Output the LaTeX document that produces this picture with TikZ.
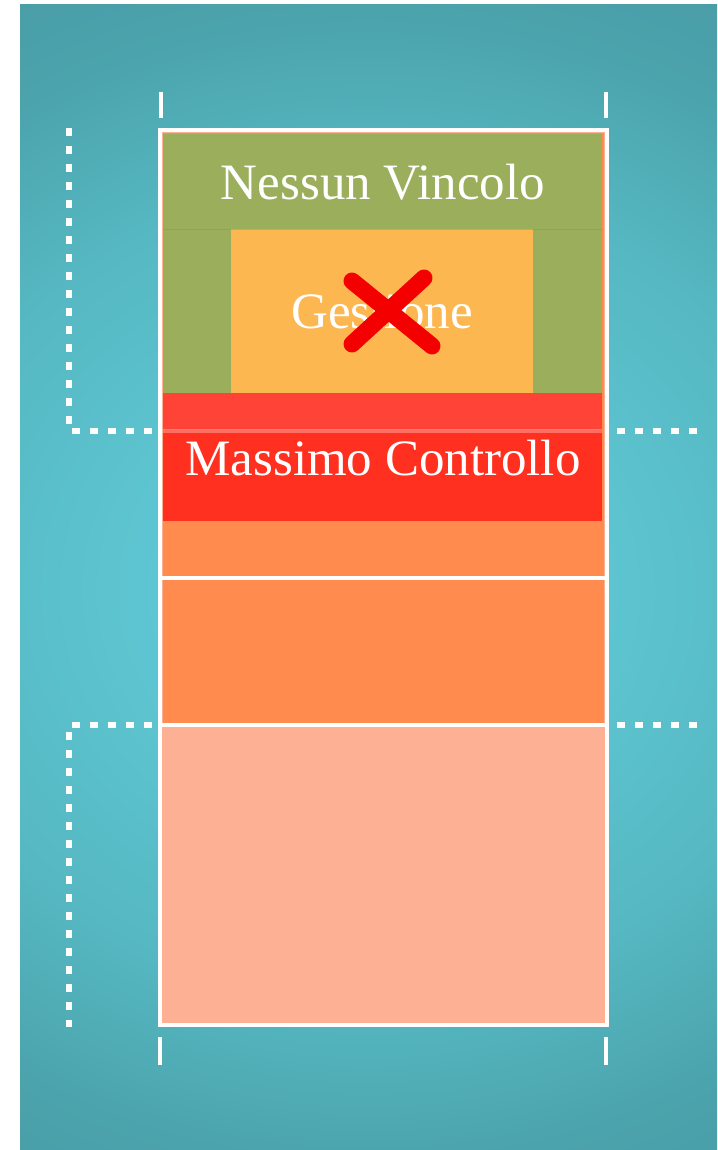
\documentclass[tikz,border=0pt]{standalone}
\usepackage{xcolor}
\usepackage{fontspec}
\setmainfont{Liberation Serif}
\usepackage{tikz}
\usetikzlibrary{calc}
\definecolor{tealdark}{HTML}{4895A0}
\definecolor{tealedge}{HTML}{4BA3AC}
\definecolor{tealmid}{HTML}{55B7C1}
\definecolor{tealsoft}{HTML}{5DC5D1}
\definecolor{teallight}{HTML}{63CDD9}
\definecolor{greenzone}{HTML}{9AAE5C}
\definecolor{gestbox}{HTML}{FDB751}
\definecolor{redzone}{HTML}{FF301F}
\definecolor{redtop}{HTML}{FF4336}
\definecolor{orangezone}{HTML}{FF8B4F}
\definecolor{salmonzone}{HTML}{FDB094}
\definecolor{crossred}{HTML}{F40000}
\pgfdeclareradialshading{courtglow}{\pgfpoint{0bp}{0bp}}{color(0bp)=(teallight); color(18bp)=(tealsoft); color(36bp)=(tealmid); color(50bp)=(tealedge); color(71bp)=(tealdark)}

\begin{document}
\begin{tikzpicture}[x=1pt,y=-1pt]
              \tikzset{>=latex}
              \tikzstyle{courtline}=[white,line width=3.5pt]
              \tikzstyle{zoneline}=[white,line width=5.5pt,dash pattern=on 8pt off 10pt]
              \tikzstyle{endmark}=[white,line width=4pt]
              \tikzstyle{zonetext}=[text=white,anchor=base,inner sep=0pt,font=\fontsize{51}{61}\selectfont]
              \tikzstyle{cross}=[crossred,line width=17pt,line cap=round]

              % CONSTANTS
              \useasboundingbox (0,0) rectangle (717,1150);
              \coordinate (NW) at (160,130);
              \coordinate (SE) at (607,1025);

              % BACKGROUND
              \begin{scope}
                \clip (20,5) rectangle (717,1150);
                \begin{scope}[shift={(368,590)},xscale=13,yscale=11.5]
                  \pgflowlevelsynccm
                  \pgftext{\pgfuseshading{courtglow}}
                \end{scope}
              \end{scope}

              % ZONES
              \fill[salmonzone] (NW) rectangle (SE);
              \fill[orangezone] (163,133) rectangle (604,724);
              \fill[redzone] (163,393) rectangle (602,521);
              \fill[redtop] (163,393) rectangle (602,430);
              \fill[greenzone] (163,134) rectangle (602,393);
              \fill[gestbox] (231,229) rectangle (533,393);
              \draw[greenzone!85!black,opacity=0.4] (163,229) -- (602,229);

              % COURT LINES
              \draw[white,opacity=0.3,line width=4pt] (163,431) -- (602,431);
              \draw[courtline] (160,578) -- (607,578);
              \draw[courtline] (160,725) -- (607,725);
              \draw[courtline] (NW) rectangle (SE);
              \draw[endmark] (161,92) -- (161,118);
              \draw[endmark] (606,92) -- (606,118);
              \draw[endmark] (160,1037) -- (160,1065);
              \draw[endmark] (606,1037) -- (606,1065);

              % ZONE LIMITS
              \draw[zoneline] (69,128) -- (69,431) -- (152,431);
              \draw[zoneline] (617,431) -- (697,431);
              \draw[zoneline] (152,725) -- (69,725) -- (69,1027);
              \draw[zoneline] (617,725) -- (697,725);

              % LABELS
              \node[zonetext] (nessun) at (383,200) {Nessun Vincolo};
              \node[zonetext] (gestione) at (382,328) {Gestione};
              \node[zonetext] (massimo) at (383,475) {Massimo Controllo};
              \draw[cross] (352,281) -- (432,346);
              \draw[cross] (424,278) -- (352,344);
            \end{tikzpicture}
\end{document}
